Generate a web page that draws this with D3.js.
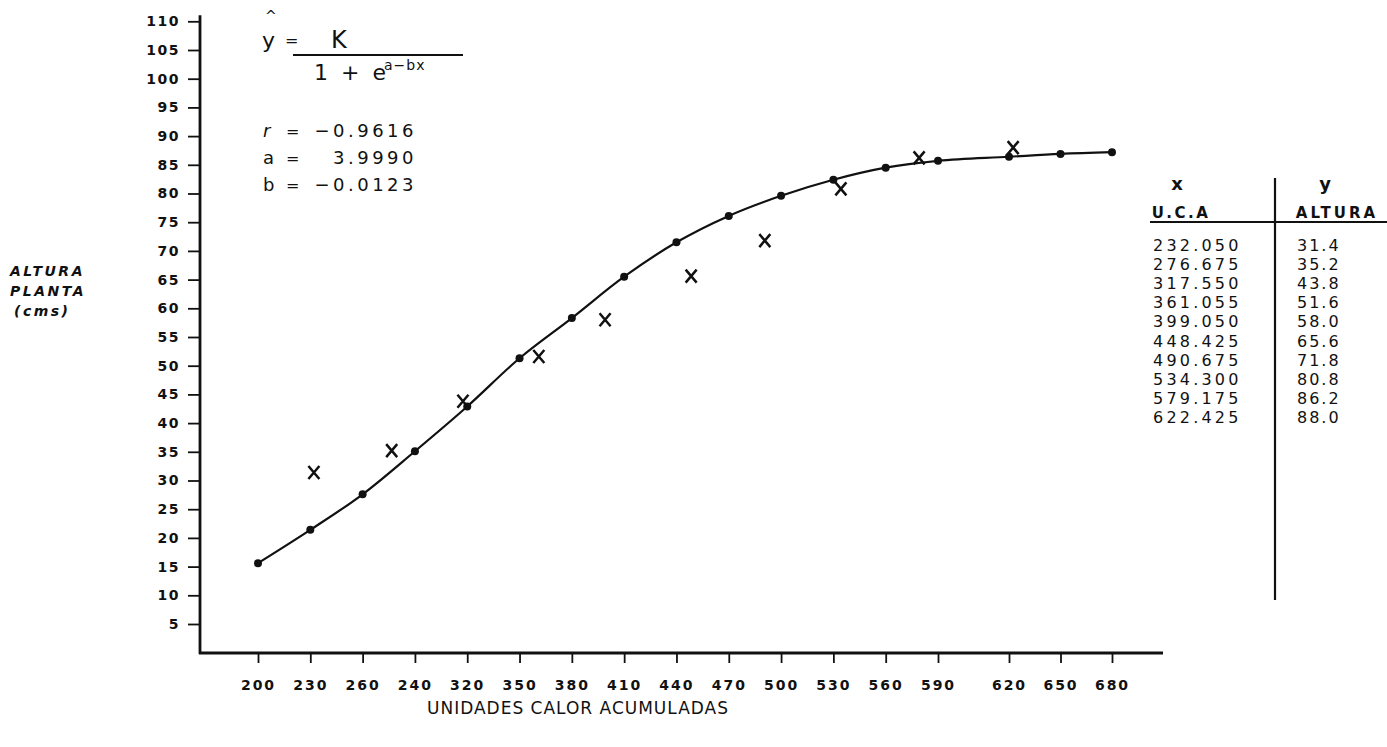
<!DOCTYPE html>
<html>
<head>
<meta charset="utf-8">
<script src="https://cdn.jsdelivr.net/npm/d3@7"></script>
<style>
  html, body { margin: 0; padding: 0; background: #fff; }
  svg { display: block; }
  text { font-family: "DejaVu Sans", sans-serif; fill: #111; }
</style>
</head>
<body>
<svg id="chart" width="1387" height="747"></svg>
<script>
// Fitted logistic curve, evaluated at each axis step (U.C.A → altura)
const fitX = [200, 230, 260, 290, 320, 350, 380, 410, 440, 470, 500, 530, 560, 590, 620, 650, 680];
const fitY = [15.6, 21.4, 27.6, 35.1, 42.9, 51.3, 58.3, 65.5, 71.5, 76.1, 79.6, 82.4, 84.5, 85.7, 86.4, 86.9, 87.2];

// Observed plant heights
const obsX = [232.050, 276.675, 317.550, 361.055, 399.050, 448.425, 490.675, 534.300, 579.175, 622.425];
const obsY = [31.4, 35.2, 43.8, 51.6, 58.0, 65.6, 71.8, 80.8, 86.2, 88.0];

// Axis ticks and their printed labels
const xTickValues = [200, 230, 260, 290, 320, 350, 380, 410, 440, 470, 500, 530, 560, 590, 620, 650, 680];
const xTickLabels = ["200", "230", "260", "240", "320", "350", "380", "410", "440", "470", "500", "530", "560", "590", "620", "650", "680"];
const yTickValues = [5, 10, 15, 20, 25, 30, 35, 40, 45, 50, 55, 60, 65, 70, 75, 80, 85, 90, 95, 100, 105, 110];

// Model parameters shown on the chart
const paramNames = ["r", "a", "b"];
const paramValues = ["−0.9616", "3.9990", "−0.0123"];

const svg = d3.select("#chart");

// The x axis carries a wider gap between 590 and 620
const x = d3.scaleLinear()
  .domain([200, 590, 620, 680])
  .range([258, 938, 1009, 1112]);
const y = d3.scaleLinear()
  .domain([0, 110])
  .range([652.7, 21.3]);

const axisX0 = 200, axisY0 = 653;

// Axis lines
svg.append("line")
  .attr("x1", axisX0).attr("x2", axisX0)
  .attr("y1", axisY0 + 1).attr("y2", y(110) - 6)
  .attr("stroke", "#111").attr("stroke-width", 2.8);
svg.append("line")
  .attr("x1", axisX0 - 1).attr("x2", 1163)
  .attr("y1", axisY0).attr("y2", axisY0)
  .attr("stroke", "#111").attr("stroke-width", 2.8);

// Y axis
const gy = svg.append("g")
  .attr("transform", `translate(${axisX0},0)`)
  .call(d3.axisLeft(y).tickValues(yTickValues).tickSize(12).tickPadding(8));
gy.select(".domain").remove();
gy.selectAll(".tick line").attr("stroke", "#111").attr("stroke-width", 1.8);
gy.selectAll(".tick text")
  .style("font-family", "'DejaVu Sans', sans-serif")
  .style("font-size", "14px")
  .style("font-weight", "bold")
  .style("letter-spacing", "1.5px")
  .attr("fill", "#111");

// X axis
const gx = svg.append("g")
  .attr("transform", `translate(0,${axisY0})`)
  .call(d3.axisBottom(x).tickValues(xTickValues)
    .tickFormat((d, i) => xTickLabels[i]).tickSize(10).tickPadding(17));
gx.select(".domain").remove();
gx.selectAll(".tick line").attr("stroke", "#111").attr("stroke-width", 1.8);
gx.selectAll(".tick text")
  .style("font-family", "'DejaVu Sans', sans-serif")
  .style("font-size", "14px")
  .style("font-weight", "bold")
  .style("letter-spacing", "2px")
  .attr("fill", "#111");

// Axis titles
svg.append("text")
  .attr("x", 578).attr("y", 714)
  .attr("text-anchor", "middle")
  .style("font-size", "17px")
  .style("letter-spacing", "1px")
  .text("UNIDADES CALOR ACUMULADAS");

const yTitle = svg.append("text")
  .style("font-size", "14px")
  .style("font-weight", "bold")
  .style("font-style", "italic")
  .style("letter-spacing", "2.5px");
yTitle.append("tspan").attr("x", 10).attr("y", 276).text("ALTURA");
yTitle.append("tspan").attr("x", 10).attr("y", 296).text("PLANTA");
yTitle.append("tspan").attr("x", 14).attr("y", 316).text("(cms)");

// Fitted curve
const line = d3.line()
  .x((d, i) => x(fitX[i]))
  .y(d => y(d))
  .curve(d3.curveMonotoneX);
svg.append("path")
  .datum(fitY)
  .attr("d", line)
  .attr("fill", "none")
  .attr("stroke", "#111")
  .attr("stroke-width", 2.2);

svg.append("g").selectAll("circle")
  .data(fitY)
  .join("circle")
  .attr("cx", (d, i) => x(fitX[i]))
  .attr("cy", d => y(d))
  .attr("r", 4)
  .attr("fill", "#111");

// Observed points as crosses
const s = 5.5;
svg.append("g").selectAll("path")
  .data(obsY)
  .join("path")
  .attr("d", (d, i) => {
    const cx = x(obsX[i]), cy = y(d);
    return `M${cx - s},${cy - s - 1}L${cx + s},${cy + s + 1}M${cx + s},${cy - s - 1}L${cx - s},${cy + s + 1}`;
  })
  .attr("fill", "none")
  .attr("stroke", "#111")
  .attr("stroke-width", 2.5);

// Model formula
svg.append("text").attr("x", 265).attr("y", 21).style("font-size", "14px").text("^");
svg.append("text").attr("x", 262).attr("y", 48).style("font-size", "22px").text("y");
svg.append("text").attr("x", 285).attr("y", 46).style("font-size", "16px").text("=");
svg.append("text").attr("x", 331).attr("y", 48).style("font-size", "24px").text("K");
svg.append("line")
  .attr("x1", 293).attr("x2", 463).attr("y1", 55).attr("y2", 55)
  .attr("stroke", "#111").attr("stroke-width", 1.8);
svg.append("text").attr("x", 314).attr("y", 80).style("font-size", "22px")
  .style("letter-spacing", "3px").text("1 + e");
svg.append("text").attr("x", 384).attr("y", 70).style("font-size", "14px")
  .style("letter-spacing", "1px").text("a−bx");

const params = svg.append("g").selectAll("g")
  .data(paramNames)
  .join("g")
  .attr("transform", (d, i) => `translate(0,${137 + i * 27})`);
params.append("text").attr("x", 263).style("font-size", "18px")
  .style("font-style", (d, i) => i === 0 ? "italic" : "normal").text(d => d);
params.append("text").attr("x", 286).style("font-size", "16px").text("=");
params.append("text").attr("x", 417).attr("text-anchor", "end")
  .style("font-size", "18px").style("letter-spacing", "3.5px")
  .text((d, i) => paramValues[i]);

// Data table
const tbl = svg.append("g");
tbl.append("line").attr("x1", 1275).attr("x2", 1275).attr("y1", 178).attr("y2", 600)
  .attr("stroke", "#111").attr("stroke-width", 2.2);
tbl.append("line").attr("x1", 1150).attr("x2", 1387).attr("y1", 222).attr("y2", 222)
  .attr("stroke", "#111").attr("stroke-width", 2.2);
tbl.append("text").attr("x", 1177).attr("y", 190).attr("text-anchor", "middle")
  .style("font-size", "18px").style("font-weight", "bold").text("x");
tbl.append("text").attr("x", 1325).attr("y", 190).attr("text-anchor", "middle")
  .style("font-size", "18px").style("font-weight", "bold").text("y");
tbl.append("text").attr("x", 1181).attr("y", 218).attr("text-anchor", "middle")
  .style("font-size", "15px").style("font-weight", "bold").style("letter-spacing", "2.5px").text("U.C.A");
tbl.append("text").attr("x", 1337).attr("y", 218).attr("text-anchor", "middle")
  .style("font-size", "15px").style("font-weight", "bold").style("letter-spacing", "3px").text("ALTURA");

const rowY = d3.scaleLinear().domain([0, obsX.length - 1]).range([251, 423]);
tbl.selectAll("text.cx")
  .data(obsX)
  .join("text")
  .attr("class", "cx")
  .attr("x", 1153)
  .attr("y", (d, i) => rowY(i))
  .style("font-size", "16px")
  .style("letter-spacing", "3.2px")
  .text(d => d3.format(".3f")(d));
tbl.selectAll("text.cy")
  .data(obsY)
  .join("text")
  .attr("class", "cy")
  .attr("x", 1297)
  .attr("y", (d, i) => rowY(i))
  .style("font-size", "16px")
  .style("letter-spacing", "2px")
  .text(d => d3.format(".1f")(d));
</script>
</body>
</html>
